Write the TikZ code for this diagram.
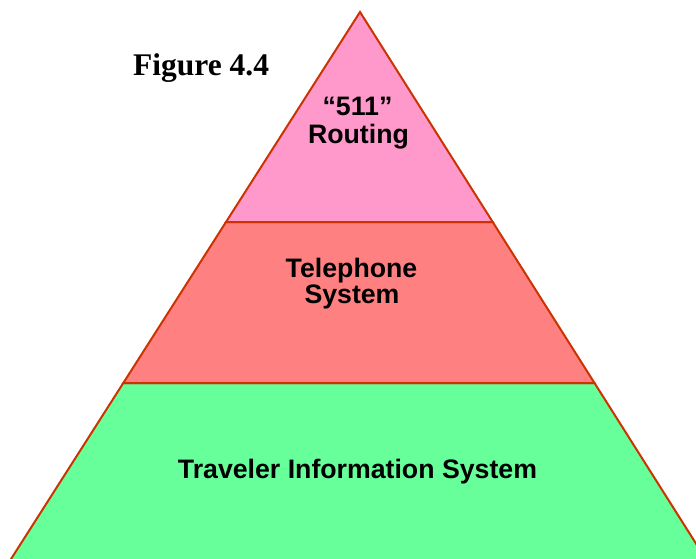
\documentclass[tikz,border=0pt]{standalone}
\usepackage{fontspec}
\setmainfont{Liberation Serif}
\newfontfamily\arialfont{Liberation Sans}
\definecolor{edgec}{HTML}{CC3300}
\definecolor{pinkc}{HTML}{FF99CC}
\definecolor{redc}{HTML}{FF8080}
\definecolor{greenc}{HTML}{66FF99}
\tikzset{
  layer/.style={draw=edgec, line width=2pt, line join=miter},
  lbl/.style={font=\arialfont\bfseries\fontsize{26.7}{28}\selectfont, anchor=base, inner sep=0pt, text=black},
}
\begin{document}
\begin{tikzpicture}[x=1pt,y=-1pt]
\useasboundingbox (0,0) rectangle (696,559);
\clip (0,0) rectangle (696,559);
\coordinate (apex) at (360,12);
\coordinate (l1) at (226,222);
\coordinate (r1) at (492.7,222);
\coordinate (l2) at (123.3,383);
\coordinate (r2) at (594.5,383);
\coordinate (l3) at (4,570);
\coordinate (r3) at (712.7,570);
\filldraw[layer, fill=greenc] (l2) -- (r2) -- (r3) -- (l3) -- cycle;
\filldraw[layer, fill=redc] (l1) -- (r1) -- (r2) -- (l2) -- cycle;
\filldraw[layer, fill=pinkc] (apex) -- (r1) -- (l1) -- cycle;
\node[lbl] (n511) at (357.5,116) {“511”};
\node[lbl] (nrout) at (358.5,144) {Routing};
\node[lbl] (ntel) at (351.5,277) {Telephone};
\node[lbl] (nsys) at (352,303) {System};
\node[lbl] (ntis) at (357.5,478) {Traveler Information System};
\node[font=\bfseries\fontsize{31.5}{34}\selectfont, anchor=base west, inner sep=0pt] (fig) at (133,76) {Figure 4.4};
\end{tikzpicture}
\end{document}
